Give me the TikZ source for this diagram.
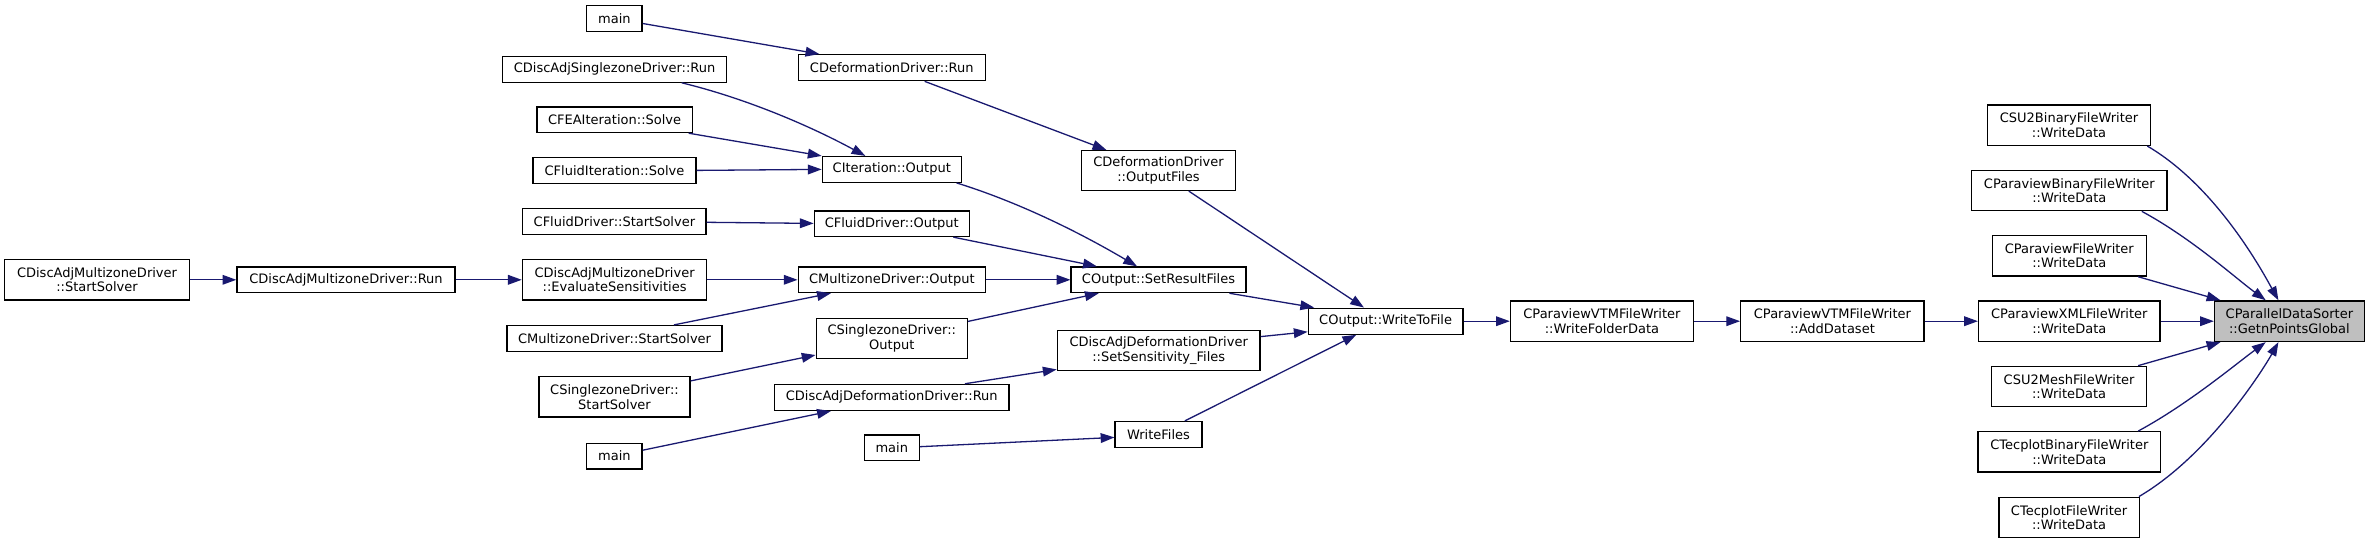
\documentclass[tikz,border=0pt]{standalone}
\usepackage{fontspec}
\setmainfont{DejaVu Sans}
\usetikzlibrary{arrows.meta,calc}
\definecolor{edgeblue}{HTML}{191970}
\definecolor{rootgray}{HTML}{BFBFBF}
\begin{document}
\begin{tikzpicture}[x=1pt,y=-1pt,
  box/.style={draw=black, line width=1.3pt, fill=white, inner sep=0pt, align=center,
    font=\fontsize{13pt}{14.5pt}\selectfont, text=black},
  rootbox/.style={box, fill=rootgray},
  edge/.style={draw=edgeblue, line width=1.3pt, -{Triangle[length=13.8pt,width=9.7pt]}}]
\useasboundingbox (0,0) rectangle (2369,543);

% column 1-2
\node[box, minimum width=184.8pt, minimum height=40.2pt] (dmzStart) at (97,279.8) {CDiscAdjMultizoneDriver\\::StartSolver};
\node[box, minimum width=218.1pt, minimum height=25.6pt] (dmzRun) at (346,279.8) {CDiscAdjMultizoneDriver::Run};

% column 3
\node[box, minimum width=55.4pt, minimum height=26pt] (mainA) at (614.4,18.2) {main};
\node[box, minimum width=224.2pt, minimum height=25.7pt] (dsRun) at (614.6,69.3) {CDiscAdjSinglezoneDriver::Run};
\node[box, minimum width=155.2pt, minimum height=25.7pt] (fea) at (614.6,119.7) {CFEAIteration::Solve};
\node[box, minimum width=163pt, minimum height=25.7pt] (fis) at (614.5,170.4) {CFluidIteration::Solve};
\node[box, minimum width=183.2pt, minimum height=25.7pt] (fds) at (614.4,221.3) {CFluidDriver::StartSolver};
\node[box, minimum width=184.4pt, minimum height=40.2pt] (eval) at (614.6,279.8) {CDiscAdjMultizoneDriver\\::EvaluateSensitivities};
\node[box, minimum width=215pt, minimum height=25.7pt] (mzs) at (614.5,338.4) {CMultizoneDriver::StartSolver};
\node[box, minimum width=151.1pt, minimum height=40.2pt] (szs) at (614.5,396.9) {CSinglezoneDriver::\\StartSolver};
\node[box, minimum width=55.4pt, minimum height=25.6pt] (mainB) at (614.4,456.1) {main};

% column 4
\node[box, minimum width=187.2pt, minimum height=26pt] (defRun) at (891.8,67.7) {CDeformationDriver::Run};
\node[box, minimum width=139pt, minimum height=25.7pt] (itOut) at (891.8,169.4) {CIteration::Output};
\node[box, minimum width=155pt, minimum height=25.6pt] (fdOut) at (891.8,223.7) {CFluidDriver::Output};
\node[box, minimum width=187.2pt, minimum height=25.6pt] (mzOut) at (891.8,279.8) {CMultizoneDriver::Output};
\node[box, minimum width=151.2pt, minimum height=40.1pt] (szOut) at (891.8,338.4) {CSinglezoneDriver::\\Output};
\node[box, minimum width=234.5pt, minimum height=26pt] (dadRun) at (891.8,397.4) {CDiscAdjDeformationDriver::Run};
\node[box, minimum width=54.8pt, minimum height=25.6pt] (mainC) at (891.8,447.8) {main};

% column 5
\node[box, minimum width=153.4pt, minimum height=39.9pt] (defOF) at (1158.5,170.5) {CDeformationDriver\\::OutputFiles};
\node[box, minimum width=174.8pt, minimum height=25.6pt] (setRes) at (1158.5,279.8) {COutput::SetResultFiles};
\node[box, minimum width=202.8pt, minimum height=39.8pt] (setSens) at (1158.7,350.6) {CDiscAdjDeformationDriver\\::SetSensitivity\_Files};
\node[box, minimum width=86.8pt, minimum height=25.9pt] (writeFiles) at (1158.5,434.5) {WriteFiles};

% columns 6-8
\node[box, minimum width=154.6pt, minimum height=26pt] (w2f) at (1385.6,321.2) {COutput::WriteToFile};
\node[box, minimum width=182.9pt, minimum height=40.6pt] (folder) at (1601.9,321.2) {CParaviewVTMFileWriter\\::WriteFolderData};
\node[box, minimum width=183.4pt, minimum height=40.6pt] (addDs) at (1832.4,321.2) {CParaviewVTMFileWriter\\::AddDataset};

% writers
\node[box, minimum width=163.3pt, minimum height=40.4pt] (su2bin) at (2069,125.2) {CSU2BinaryFileWriter\\::WriteData};
\node[box, minimum width=195.3pt, minimum height=40.4pt] (pvbin) at (2069.3,190.5) {CParaviewBinaryFileWriter\\::WriteData};
\node[box, minimum width=153.9pt, minimum height=40.4pt] (pvfile) at (2069.3,255.9) {CParaviewFileWriter\\::WriteData};
\node[box, minimum width=181.5pt, minimum height=40.6pt] (pvxml) at (2069.3,321.2) {CParaviewXMLFileWriter\\::WriteData};
\node[box, minimum width=155pt, minimum height=40.4pt] (su2mesh) at (2069.1,386.5) {CSU2MeshFileWriter\\::WriteData};
\node[box, minimum width=182.9pt, minimum height=40.4pt] (tecbin) at (2069.3,451.9) {CTecplotBinaryFileWriter\\::WriteData};
\node[box, minimum width=140.4pt, minimum height=40.4pt] (tecfile) at (2069.1,517.4) {CTecplotFileWriter\\::WriteData};

% root
\node[rootbox, minimum width=149.9pt, minimum height=40.6pt] (root) at (2289.4,321.2) {CParallelDataSorter\\::GetnPointsGlobal};

% edges
\draw[edge] (dmzStart.east) -- (dmzRun.west);
\draw[edge] (dmzRun.east) -- (eval.west);
\draw[edge] ($(mainA.east)+(0,5.3)$) -- ($(defRun.north west)+(21.8,0)$);
\draw[edge] ($(dsRun.south west)+(179.8,0)$) .. controls +(59.7,14.4) and +(-60,-32.5) .. ($(itOut.north west)+(43.7,0)$);
\draw[edge] ($(fea.south east)+(-4.2,0)$) -- (itOut.north west);
\draw[edge] (fis.east) -- (itOut.west);
\draw[edge] ($(fds.east)+(0,1)$) -- ($(fdOut.west)+(0,-0.3)$);
\draw[edge] (eval.east) -- (mzOut.west);
\draw[edge] ($(mzs.north west)+(167.6,0)$) -- ($(mzOut.south west)+(33.3,0)$);
\draw[edge] ($(szs.east)+(0,-16)$) -- ($(szOut.west)+(0,16.6)$);
\draw[edge] ($(mainB.east)+(0,-5.9)$) -- ($(dadRun.south west)+(57,0)$);

\draw[edge] ($(defRun.south west)+(127.1,0)$) -- ($(defOF.north west)+(25.2,0)$);
\draw[edge] ($(itOut.south east)+(-5.4,0)$) .. controls +(60,18.6) and +(-60,-35.4) .. ($(setRes.north west)+(66.6,0)$);
\draw[edge] ($(fdOut.south west)+(139.7,0)$) -- ($(setRes.north west)+(26.4,0)$);
\draw[edge] (mzOut.east) -- (setRes.west);
\draw[edge] ($(szOut.east)+(0,-17)$) -- ($(setRes.south west)+(28.3,0)$);
\draw[edge] ($(dadRun.north west)+(191,0)$) -- ($(setSens.south west)+(0,-1.7)$);
\draw[edge] ($(mainC.east)+(0,-1.1)$) -- ($(writeFiles.west)+(0,2.9)$);

\draw[edge] ($(defOF.south west)+(107.6,0)$) -- ($(w2f.north west)+(56.3,0)$);
\draw[edge] ($(setRes.south east)+(-17.2,0)$) -- ($(w2f.north west)+(6.5,0)$);
\draw[edge] ($(setSens.east)+(0,-14)$) -- ($(w2f.west)+(0,10.6)$);
\draw[edge] ($(writeFiles.north west)+(70.4,0)$) -- ($(w2f.south west)+(48.6,0)$);

\draw[edge] (w2f.east) -- (folder.west);
\draw[edge] (folder.east) -- (addDs.west);
\draw[edge] (addDs.east) -- (pvxml.west);

\draw[edge] ($(su2bin.south east)+(-4,0)$) .. controls +(70,41) and +(-15,-27) .. ($(root.north west)+(64.6,0)$);
\draw[edge] ($(pvbin.south east)+(-25.8,0)$) .. controls +(50,27) and +(-30,-22) .. ($(root.north west)+(51.9,0)$);
\draw[edge] ($(pvfile.south east)+(-8.7,0)$) -- ($(root.north west)+(6.6,0)$);
\draw[edge] (pvxml.east) -- (root.west);
\draw[edge] ($(su2mesh.north east)+(-9.1,0)$) -- ($(root.south west)+(6.6,0)$);
\draw[edge] ($(tecbin.north east)+(-23.2,0)$) .. controls +(50,-27) and +(-30,22) .. ($(root.south west)+(51.9,0)$);
\draw[edge] ($(tecfile.north east)+(-1,0)$) .. controls +(70,-41) and +(-15,27) .. ($(root.south west)+(64.6,0)$);
\end{tikzpicture}
\end{document}
